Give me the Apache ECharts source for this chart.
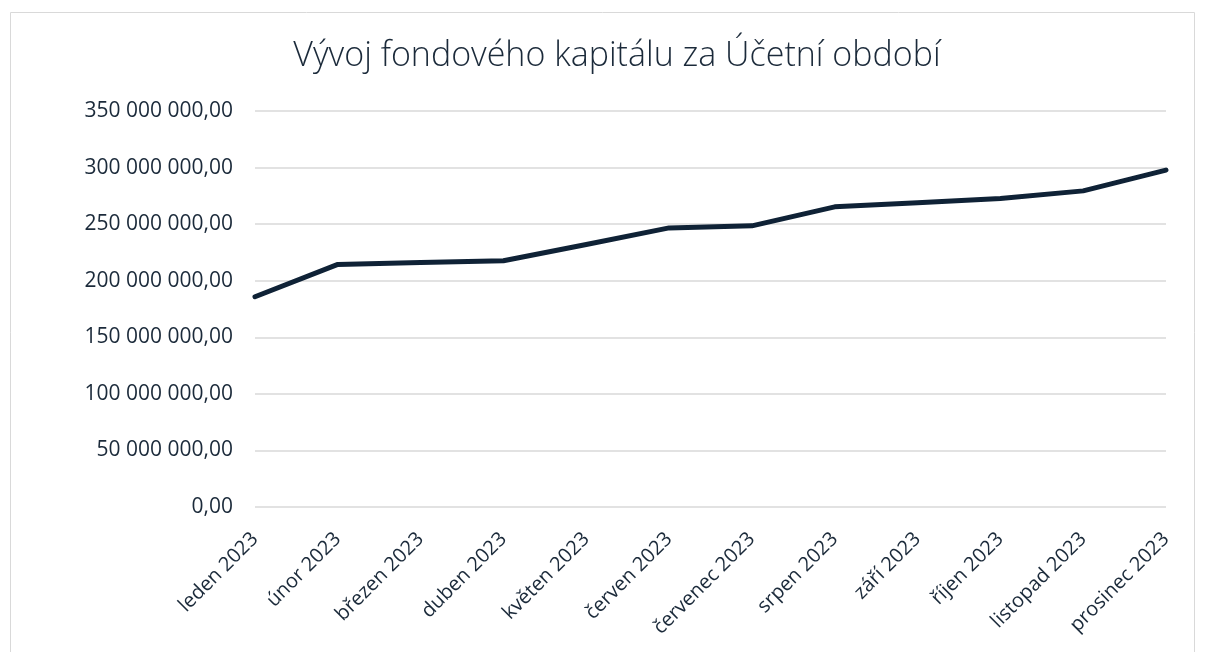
<!DOCTYPE html>
<html>
<head>
<meta charset="utf-8">
<script src="https://cdn.jsdelivr.net/npm/echarts@6/dist/echarts.min.js"></script>
<style>
  html, body { margin: 0; padding: 0; background: #fff; }
  #chart { width: 1206px; height: 652px; }
</style>
</head>
<body>
<div id="chart"></div>
<script>
const months = ["leden 2023", "únor 2023", "březen 2023", "duben 2023", "květen 2023", "červen 2023",
  "červenec 2023", "srpen 2023", "září 2023", "říjen 2023", "listopad 2023", "prosinec 2023"];
const capital = [185800000, 214400000, 216000000, 217600000, 232000000, 246700000,
  248500000, 265300000, 269000000, 272700000, 279400000, 297800000];
const yTicks = { min: 0, max: 350000000, step: 50000000 };

function fmt(v) {
  const s = Math.round(v).toString().replace(/\B(?=(\d{3})+(?!\d))/g, " ");
  return s + ",00";
}

let chart = echarts.init(document.getElementById("chart"));
chart.setOption({
  animation: false,
  textStyle: { fontFamily: "Open Sans" },
  title: {
    text: "Vývoj fondového kapitálu za Účetní období",
    left: 612,
    textAlign: "center",
    top: 34,
    textStyle: { fontFamily: "Open Sans", fontWeight: 300, fontSize: 34, color: "#1b2a3a" }
  },
  graphic: [{
    type: "rect",
    shape: { x: 10.5, y: 12.5, width: 1184, height: 700 },
    style: { fill: "none", stroke: "#d9d9d9", lineWidth: 1 },
    silent: true
  }],
  grid: { left: 255, right: 40, top: 111, bottom: 145 },
  xAxis: {
    type: "category",
    data: months,
    boundaryGap: false,
    axisLine: { show: false },
    axisTick: { show: false },
    axisLabel: { rotate: 45, margin: 29, fontSize: 20, color: "#1b2a3a", interval: 0 }
  },
  yAxis: {
    type: "value",
    min: yTicks.min,
    max: yTicks.max,
    interval: yTicks.step,
    axisLabel: { formatter: fmt, fontSize: 21, color: "#1b2a3a", margin: 22 },
    splitLine: { lineStyle: { color: "#d9d9d9", width: 1.5 } }
  },
  series: [{
    type: "line",
    data: capital,
    symbol: "none",
    lineStyle: { color: "#0f2236", width: 5, cap: "round", join: "round" }
  }]
});
</script>
</body>
</html>
